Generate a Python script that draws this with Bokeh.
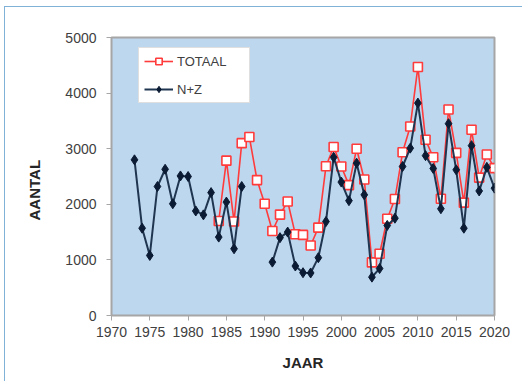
from bokeh.plotting import figure
from bokeh.models import Range1d, FixedTicker, Title
from bokeh.embed import file_html
from bokeh.resources import INLINE

nan = float("nan")

years_nz = list(range(1973, 2021))
nz = [2800, 1570, 1080, 2320, 2630, 2010, 2510, 2500, 1880, 1810,
      2210, 1410, 2040, 1200, 2320, nan, nan, nan, 960, 1400,
      1500, 890, 770, 765, 1040, 1690, 2845, 2400, 2065, 2740,
      2170, 690, 845, 1620, 1750, 2680, 3010, 3820, 2875, 2645,
      1920, 3450, 2620, 1570, 3055, 2240, 2665, 2290]

years_tot = list(range(1984, 2021))
totaal = [1700, 2785, 1690, 3100, 3210, 2435, 2010, 1520, 1815, 2050,
          1460, 1450, 1260, 1580, 2685, 3030, 2680, 2345, 3000, 2445,
          955, 1110, 1740, 2095, 2935, 3400, 4470, 3160, 2845, 2100,
          3705, 2925, 2030, 3340, 2480, 2895, 2650]

x_ticks = list(range(1970, 2021, 5))
y_ticks = list(range(0, 5001, 1000))

FONT = "Liberation Sans"
FRAME_LINE = "#7fb2d6"

p = figure(frame_width=383, frame_height=278,
           min_border_left=111, min_border_right=28,
           min_border_top=37, min_border_bottom=66,
           x_range=Range1d(1970, 2020), y_range=Range1d(0, 5000),
           output_backend="svg", toolbar_location=None)
p.styles = {
    "background-image": f"linear-gradient({FRAME_LINE}, {FRAME_LINE}), linear-gradient({FRAME_LINE}, {FRAME_LINE})",
    "background-size": "1px 100%, 100% 1px",
    "background-position": "4px 6px, 4px 6px",
    "background-repeat": "no-repeat",
}

p.background_fill_color = "#BDD7EE"
p.border_fill_color = "white"
p.border_fill_alpha = 0
p.outline_line_color = "#a6a6a6"
p.outline_line_width = 2
p.xgrid.visible = False
p.ygrid.visible = False

for ax in (p.xaxis[0], p.yaxis[0]):
    ax.axis_line_color = "#a6a6a6"
    ax.major_tick_line_color = "#a6a6a6"
    ax.major_tick_out = 5
    ax.major_tick_in = 0
    ax.minor_tick_line_color = None
    ax.major_label_text_font = FONT
    ax.major_label_text_font_size = "14px"
    ax.major_label_text_color = "#404040"

p.xaxis.ticker = FixedTicker(ticks=x_ticks)
p.yaxis.ticker = FixedTicker(ticks=y_ticks)
p.xaxis.major_label_standoff = 6
p.yaxis.major_label_standoff = 10

p.xaxis.axis_label = "JAAR"
p.xaxis.axis_label_text_font = FONT
p.xaxis.axis_label_text_font_size = "15px"
p.xaxis.axis_label_text_font_style = "bold"
p.xaxis.axis_label_text_color = "#262626"
p.xaxis.axis_label_standoff = 14

p.add_layout(Title(text="AANTAL", align="left", offset=95, standoff=35,
                   vertical_align="top", text_font=FONT,
                   text_font_size="15px", text_font_style="bold",
                   text_color="#262626"), "left")

red = "#ff3b3b"
p.line(years_tot, totaal, line_color=red, line_width=1.6, legend_label="TOTAAL")
p.scatter(years_tot, totaal, marker="square", size=9, fill_color="white",
          line_color=red, line_width=1.6, legend_label="TOTAAL")

p.line(years_nz, nz, line_color="#1f3550", line_width=2, legend_label="N+Z")
p.scatter(years_nz, nz, marker="diamond", size=10, fill_color="#0b1b33",
          line_color="#0b1b33", legend_label="N+Z")

lg = p.legend[0]
lg.location = (27, 212)
lg.padding = 5
lg.spacing = 12
lg.margin = 0
lg.glyph_width = 29
lg.glyph_height = 16
lg.label_height = 16
lg.label_standoff = 4
lg.label_width = 67
lg.label_text_font = FONT
lg.label_text_font_size = "13px"
lg.label_text_color = "#404040"
lg.border_line_color = "#bfbfbf"
lg.background_fill_color = "white"
lg.background_fill_alpha = 1

open("out.html", "w").write(file_html(p, INLINE))
